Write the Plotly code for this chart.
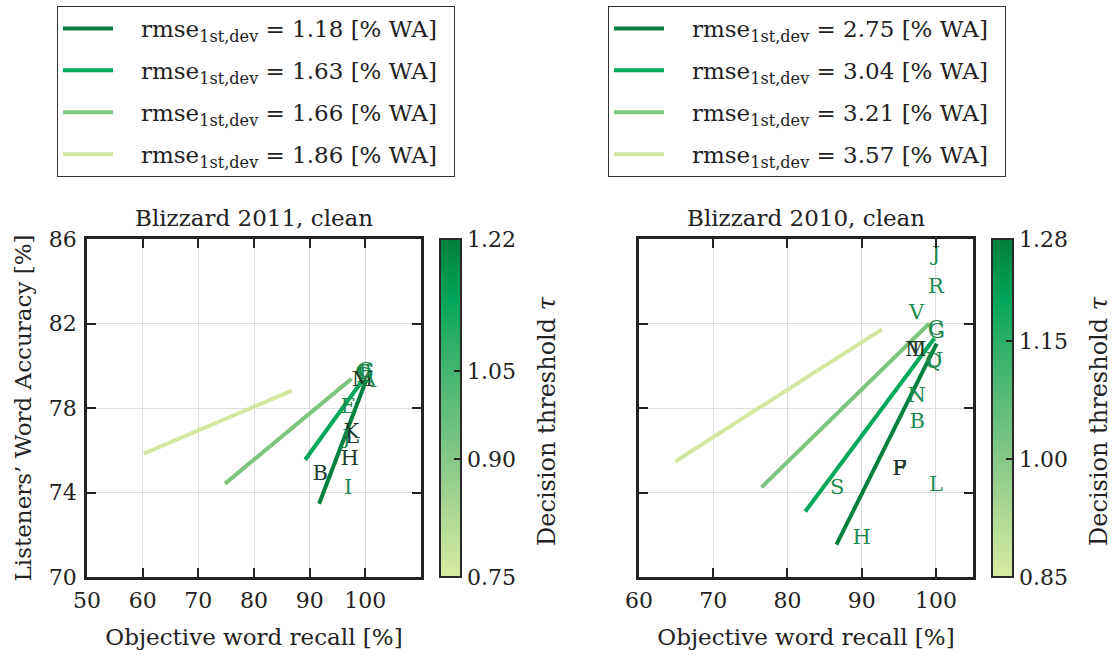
import plotly.graph_objects as go

# ---------------- data ----------------
# Blizzard 2011 (left panel)
rmse_2011 = ["1.18", "1.63", "1.66", "1.86"]
line_x_2011 = [[91.7, 100.2], [89.2, 99.6], [74.8, 97.5], [60.2, 86.8]]
line_y_2011 = [[73.47, 79.35], [75.55, 79.35], [74.42, 79.38], [75.84, 78.82]]
sys_2011 = ["B", "E", "K", "L", "J", "H", "I", "C", "D", "F", "G", "M", "A"]
rec_2011 = [91.9, 96.9, 97.5, 97.6, 96.6, 97.2, 96.9, 99.6, 99.9, 100.1, 100.0, 99.5, 100.6]
wa_2011 = [74.85, 78.0, 76.85, 76.6, 76.55, 75.55, 74.2, 79.6, 79.5, 79.6, 79.7, 79.3, 79.25]
dark_2011 = [True, False, True, True, False, True, False, False, False, False, False, True, False]

# Blizzard 2010 (right panel)
rmse_2010 = ["2.75", "3.04", "3.21", "3.57"]
line_x_2010 = [[86.6, 100.1], [82.4, 99.8], [76.5, 99.1], [64.9, 92.7]]
line_y_2010 = [[71.53, 81.05], [73.1, 81.3], [74.24, 82.0], [75.47, 81.72]]
sys_2010 = ["J", "R", "V", "C", "G", "M", "T", "Q", "U", "N", "B", "P", "F", "L", "S", "H"]
rec_2010 = [100.0, 100.0, 97.4, 100.0, 100.1, 97.3, 97.3, 99.7, 99.8, 97.4, 97.5, 95.1, 95.1, 100.0, 86.7, 90.0]
wa_2010 = [85.2, 83.7, 82.46, 81.7, 81.55, 80.7, 80.7, 80.15, 80.2, 78.55, 77.3, 75.1, 75.1, 74.3, 74.2, 71.8]
dark_2010 = [False, False, False, False, False, True, True, False, False, False, False, True, True, False, False, False]

# colorbar ranges / ticks
tau_2011 = [0.75, 1.22]
tau_ticks_2011 = [0.75, 0.914, 1.036, 1.22]
tau_ticktext_2011 = ["0.75", "0.90", "1.05", "1.22"]
tau_2010 = [0.85, 1.28]
tau_ticks_2010 = [0.85, 1.00, 1.15, 1.28]
tau_ticktext_2010 = ["0.85", "1.00", "1.15", "1.28"]

x_ticks_2011 = [50, 60, 70, 80, 90, 100]
x_ticks_2010 = [60, 70, 80, 90, 100]
y_ticks = [70, 74, 78, 82, 86]

# ---------------- styles ----------------
FONT = "DejaVu Serif"
TXT = "#222222"
line_colors = ["#00813f", "#00a85a", "#7dc47e", "#d3e7a1"]
cscale = [[0.0, "#d9eba3"], [0.35, "#86c887"], [0.7, "#2caf66"], [0.82, "#00a65a"], [1.0, "#007f3d"]]
DARK_TXT = "#1d3a2b"
GREEN_TXT = "#1c8a50"
W, H = 1113, 655

fig = go.Figure()

def add_panel(xs, ys, rmses, letters, recs, was, darks, xa, ya, leg):
    for i in range(len(xs)):
        fig.add_trace(go.Scatter(
            x=xs[i], y=ys[i], mode="lines", xaxis=xa, yaxis=ya,
            line=dict(color=line_colors[i], width=4),
            name="\u2003rmse<sub>1st,dev</sub> = " + rmses[i] + " [% WA]\u2002",
            legend=leg, legendgroup=leg + str(i), showlegend=True))
    fig.add_trace(go.Scatter(
        x=recs, y=was, mode="text", text=letters, xaxis=xa, yaxis=ya,
        textposition="middle center", showlegend=False,
        textfont=dict(family=FONT, size=21,
                      color=[DARK_TXT if d else GREEN_TXT for d in darks])))

add_panel(line_x_2011, line_y_2011, rmse_2011, sys_2011, rec_2011, wa_2011, dark_2011, "x", "y", "legend")
add_panel(line_x_2010, line_y_2010, rmse_2010, sys_2010, rec_2010, wa_2010, dark_2010, "x2", "y2", "legend2")

def add_cbar(rng, tv, tt, xa, ya, xpos):
    fig.add_trace(go.Scatter(
        x=[None, None], y=[None, None], mode="markers", xaxis=xa, yaxis=ya, showlegend=False,
        marker=dict(color=rng, cmin=rng[0], cmax=rng[1], colorscale=cscale, showscale=True,
                    colorbar=dict(
                        x=xpos, xanchor="left", xref="paper", y=1 - 408 / H, yanchor="middle",
                        len=338 / H, lenmode="fraction", thickness=21,
                        outlinecolor="#2a2a2a", outlinewidth=2,
                        tickvals=tv, ticktext=tt, ticks="inside", ticklen=8, tickwidth=1.5,
                        tickcolor="#222222",
                        tickfont=dict(family=FONT, size=22, color=TXT),
                        xpad=0, ypad=0))))

add_cbar(tau_2011, tau_ticks_2011, tau_ticktext_2011, "x", "y", 440 / W)
add_cbar(tau_2010, tau_ticks_2010, tau_ticktext_2010, "x2", "y2", 992 / W)

axis_common = dict(showline=True, linecolor="#222222", linewidth=2.5, mirror="ticks",
                   ticks="inside", ticklen=9, tickwidth=2, tickcolor="#222222",
                   showgrid=True, gridcolor="#dddddd", gridwidth=1, zeroline=False,
                   automargin=False,
                   tickfont=dict(family=FONT, size=22, color=TXT))

title_font = dict(family=FONT, size=23, color=TXT)
cb_title_font = dict(family=FONT, size=24, color=TXT)
leg_common = dict(xanchor="left", yanchor="top", bordercolor="#333333", borderwidth=1,
                  bgcolor="white", font=dict(family=FONT, size=23, color=TXT),
                  itemwidth=50, tracegroupgap=9)

fig.update_layout(
    width=W, height=H, margin=dict(l=0, r=0, t=0, b=0, autoexpand=False),
    paper_bgcolor="white", plot_bgcolor="white",
    font=dict(family=FONT, color=TXT),
    xaxis=dict(domain=[87 / W, 421 / W], range=[50, 110], tickvals=x_ticks_2011,
               ticklabelstandoff=2,
               title=dict(text="Objective word recall [%]", font=title_font, standoff=17),
               **axis_common),
    yaxis=dict(domain=[78 / H, 416 / H], range=[70, 86], tickvals=y_ticks,
               ticklabelstandoff=3,
               title=dict(text="Listeners’ Word Accuracy [%]", font=title_font, standoff=11),
               **axis_common),
    xaxis2=dict(domain=[639 / W, 973 / W], range=[60, 105], tickvals=x_ticks_2010, anchor="y2",
                ticklabelstandoff=2,
                title=dict(text="Objective word recall [%]", font=title_font, standoff=17),
                **axis_common),
    yaxis2=dict(domain=[78 / H, 416 / H], range=[70, 86], tickvals=y_ticks, anchor="x2",
                showticklabels=False, **axis_common),
    legend=dict(x=57 / W, y=1 - 6 / H, **leg_common),
    legend2=dict(x=608 / W, y=1 - 6 / H, **leg_common),
    annotations=[
        dict(text="Blizzard 2011, clean", x=(87 + 421) / 2 / W, y=1 - 218 / H, xref="paper", yref="paper",
             showarrow=False, font=title_font, xanchor="center", yanchor="middle"),
        dict(text="Blizzard 2010, clean", x=(639 + 973) / 2 / W, y=1 - 218 / H, xref="paper", yref="paper",
             showarrow=False, font=title_font, xanchor="center", yanchor="middle"),
        dict(text="Decision threshold <i>τ</i>", x=547 / W, y=1 - 421 / H, xref="paper", yref="paper",
             showarrow=False, font=cb_title_font, textangle=-90, xanchor="center", yanchor="middle"),
        dict(text="Decision threshold <i>τ</i>", x=1099 / W, y=1 - 421 / H, xref="paper", yref="paper",
             showarrow=False, font=cb_title_font, textangle=-90, xanchor="center", yanchor="middle"),
    ],
)

fig.write_html("out.html")
